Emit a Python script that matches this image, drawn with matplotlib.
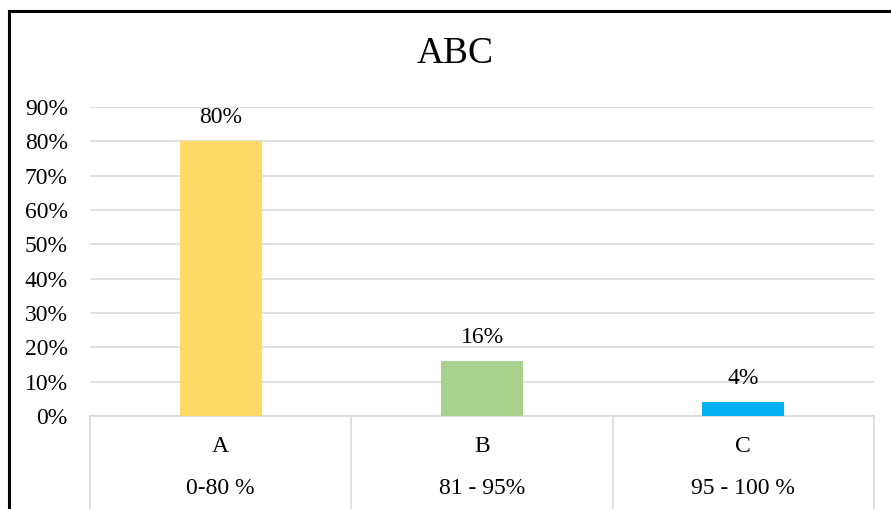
import numpy as np
import matplotlib.pyplot as plt
from matplotlib.lines import Line2D

plt.rcParams['font.family'] = ['Liberation Serif', 'DejaVu Serif']

categories = ["A", "B", "C"]
ranges = ["0-80 %", "81 - 95%", "95 - 100 %"]
shares = [0.80, 0.16, 0.04]
colors = ["#FFD966", "#A9D18E", "#00B0F0"]

W, H = 891, 509
fig = plt.figure(figsize=(W / 100, H / 100), dpi=100)
ax = fig.add_axes([90 / W, 1 - 416 / H, (874 - 90) / W, (416 - 107) / H])

x = np.arange(len(categories))
bars = ax.bar(x, shares, width=0.314, color=colors, zorder=3)
for b, v in zip(bars, shares):
    ax.text(b.get_x() + b.get_width() / 2, v + 0.068, f"{v:.0%}",
            ha="center", va="center", fontsize=17)

ax.set_xlim(-0.5, len(categories) - 0.5)
ax.set_ylim(0, 0.9)
ax.set_yticks(np.arange(0, 0.91, 0.1))
ax.set_yticklabels([f"{t:.0%}" for t in np.arange(0, 0.91, 0.1)], fontsize=17)
ax.tick_params(axis="y", length=0, pad=16)
ax.tick_params(axis="x", length=0, labelbottom=False)
ax.grid(axis="y", color="#D9D9D9", linewidth=1.2, zorder=0)
for s in ["top", "right", "left"]:
    ax.spines[s].set_visible(False)
ax.spines["bottom"].set_color("#D9D9D9")
ax.spines["bottom"].set_linewidth(1.2)

# category table below the axis
trans = ax.get_xaxis_transform()
for i, (c, r) in enumerate(zip(categories, ranges)):
    ax.text(i, -30 / 309, c, transform=trans, ha="center", va="center", fontsize=17)
    ax.text(i, -72 / 309, r, transform=trans, ha="center", va="center", fontsize=17)
for edge in np.arange(-0.5, len(categories), 1.0):
    ax.add_line(Line2D([edge, edge], [0, -0.32], transform=trans, color="#D9D9D9",
                       linewidth=1.2, clip_on=False))

fig.text(455 / W, 1 - 54 / H, "ABC", ha="center", va="center", fontsize=27)

# outer frame (only top and left visible in the crop)
fig.add_artist(Line2D([9 / W, 9 / W], [0, 1 - 11 / H], transform=fig.transFigure,
                      color="black", linewidth=2.2))
fig.add_artist(Line2D([9 / W, 1], [1 - 11 / H, 1 - 11 / H], transform=fig.transFigure,
                      color="black", linewidth=2.2))

fig.savefig("out.png", dpi=100)
